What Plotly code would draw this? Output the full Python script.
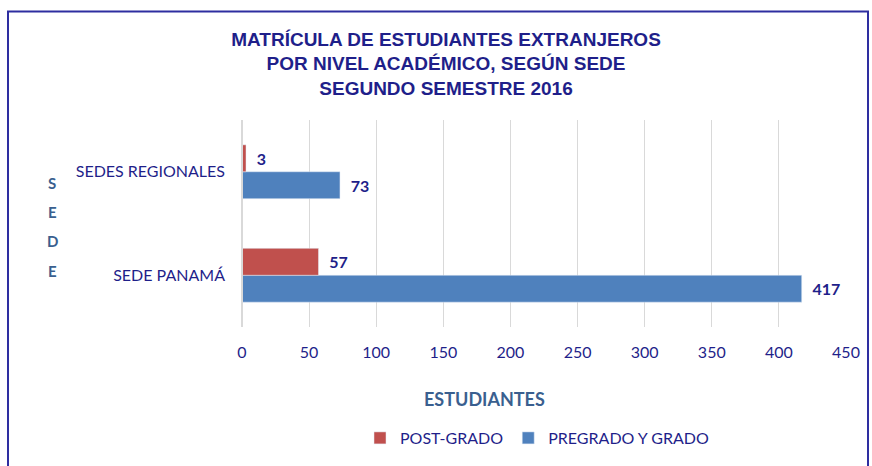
import plotly.graph_objects as go

categories = ["SEDE PANAMÁ", "SEDES REGIONALES"]
post_grado = [57, 3]
pregrado = [417, 73]
x_ticks = [0, 50, 100, 150, 200, 250, 300, 350, 400, 450]
axis_letters = ["S", "E", "D", "E"]

navy = "#1F1F8A"
steel = "#3A5F8F"
red = "#C0504D"
blue = "#4F81BD"

label_font = dict(family="Lato", size=16, color=navy, weight="bold")
pad = "\u00a0\u00a0"

fig = go.Figure()
fig.add_trace(go.Bar(
    y=categories, x=pregrado, name="PREGRADO Y GRADO", orientation="h",
    marker_color=blue, texttemplate=pad + "%{x}", textposition="outside",
    textfont=label_font, cliponaxis=False, hoverinfo="x+y+name",
))
fig.add_trace(go.Bar(
    y=categories, x=post_grado, name="POST-GRADO", orientation="h",
    marker_color=red, texttemplate=pad + "%{x}", textposition="outside",
    textfont=label_font, cliponaxis=False, hoverinfo="x+y+name",
))

W, H = 872, 466
l, r, t, b = 242, 26, 120, 138
pw, ph = W - l - r, H - t - b

def px(x):
    return (x - l) / pw

def py(y):
    return 1 - (y - t) / ph

letter_ys = [183, 212, 242, 272]
annotations = [
    dict(text=ch, xref="paper", yref="paper", x=px(52), y=py(yy),
         xanchor="center", yanchor="middle", showarrow=False,
         font=dict(family="Lato", size=15, color=steel, weight="bold"))
    for ch, yy in zip(axis_letters, letter_ys)
]
annotations.append(
    dict(text="ESTUDIANTES", xref="paper", yref="paper",
         x=px(484), y=py(400), xanchor="center", yanchor="middle",
         showarrow=False,
         font=dict(family="Lato", size=18, color=steel, weight="bold"))
)

fig.update_layout(
    width=W, height=H,
    margin=dict(l=l, r=r, t=t, b=b),
    paper_bgcolor="white", plot_bgcolor="white",
    barmode="group", bargap=0.48, bargroupgap=0,
    font=dict(family="Lato", color=navy),
    title=dict(
        text="MATRÍCULA DE ESTUDIANTES EXTRANJEROS<br>POR NIVEL ACADÉMICO, SEGÚN SEDE<br>SEGUNDO SEMESTRE 2016",
        x=446 / W, xanchor="center", y=1 - 45.5 / H, yanchor="top",
        font=dict(family="Liberation Sans", size=19, color=navy, weight="bold"),
    ),
    xaxis=dict(
        range=[0, 450], tickvals=x_ticks, showgrid=True, gridcolor="#D9D9D9",
        gridwidth=1, zeroline=False, showline=False, ticks="",
        ticklabelstandoff=14,
        tickfont=dict(family="Lato", size=16, color=navy),
        fixedrange=True,
    ),
    yaxis=dict(
        showgrid=False, zeroline=False, showline=False, ticks="",
        ticklabelstandoff=16,
        tickfont=dict(family="Lato", size=16, color=navy),
    ),
    legend=dict(
        orientation="h", traceorder="reversed",
        x=px(360), xanchor="left", y=py(438), yanchor="middle",
        font=dict(family="Lato", size=16, color=navy),
        itemwidth=30,
    ),
    shapes=[
        dict(type="line", xref="paper", yref="paper", x0=0, x1=0, y0=0, y1=1,
             line=dict(color="#D9D9D9", width=2)),
        dict(type="rect", xref="paper", yref="paper",
             x0=px(8), x1=px(868), y0=py(11), y1=py(480),
             line=dict(color="#2E2EA0", width=2), fillcolor="rgba(0,0,0,0)"),
    ],
    annotations=annotations,
)

fig.write_html("out.html", config={"displayModeBar": False},
               post_script="document.body.style.margin='0';")
